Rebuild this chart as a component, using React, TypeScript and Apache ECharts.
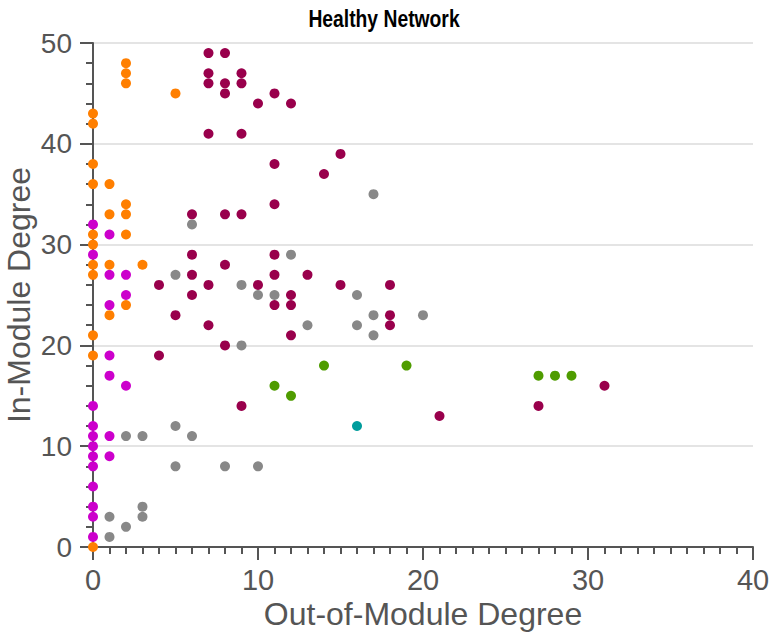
import React, { useEffect, useRef } from "react";
import * as echarts from "echarts";

// [out-of-module degree, in-module degree] per module
const orangeNodes: number[][] = [
  [0, 43], [0, 42], [0, 38], [0, 36], [0, 31], [0, 30], [0, 28], [0, 27], [0, 21], [0, 19], [0, 0],
  [1, 36], [1, 33], [1, 28], [1, 23],
  [2, 48], [2, 47], [2, 46], [2, 34], [2, 33], [2, 31], [2, 24],
  [3, 28], [5, 45],
];

const magentaNodes: number[][] = [
  [0, 32], [0, 29], [0, 14], [0, 12], [0, 11], [0, 10], [0, 9], [0, 8], [0, 6], [0, 4], [0, 3], [0, 1],
  [1, 31], [1, 27], [1, 24], [1, 19], [1, 17], [1, 11], [1, 9],
  [2, 27], [2, 25], [2, 16],
];

const grayNodes: number[][] = [
  [1, 3], [1, 1], [2, 11], [2, 2], [3, 11], [3, 4], [3, 3],
  [5, 27], [5, 12], [5, 8], [6, 32], [6, 11], [8, 8],
  [9, 26], [9, 20], [10, 25], [10, 8], [11, 25], [12, 29], [13, 22],
  [16, 25], [16, 22], [17, 35], [17, 23], [17, 21], [20, 23],
];

const maroonNodes: number[][] = [
  [4, 26], [4, 19], [5, 23],
  [6, 33], [6, 29], [6, 27], [6, 25],
  [7, 49], [7, 47], [7, 46], [7, 41], [7, 26], [7, 22],
  [8, 49], [8, 46], [8, 45], [8, 33], [8, 28], [8, 20],
  [9, 47], [9, 46], [9, 41], [9, 33], [9, 14],
  [10, 44], [10, 26],
  [11, 45], [11, 38], [11, 34], [11, 29], [11, 27], [11, 24],
  [12, 44], [12, 25], [12, 24], [12, 21],
  [13, 27], [14, 37], [15, 39], [15, 26],
  [18, 26], [18, 23], [18, 22], [21, 13], [27, 14], [31, 16],
];

const greenNodes: number[][] = [
  [11, 16], [12, 15], [14, 18], [19, 18], [27, 17], [28, 17], [29, 17],
];

const tealNodes: number[][] = [[16, 12]];

const xTicks = [0, 10, 20, 30, 40];
const yTicks = [0, 10, 20, 30, 40, 50];

const modules = [
  { name: "Module A", color: "#888888", data: grayNodes },
  { name: "Module B", color: "#99004c", data: maroonNodes },
  { name: "Module C", color: "#4f9c00", data: greenNodes },
  { name: "Module D", color: "#009c9c", data: tealNodes },
  { name: "Module E", color: "#cc00cc", data: magentaNodes },
  { name: "Module F", color: "#ff7f00", data: orangeNodes },
];

const FONT = "Liberation Sans, Arial, Helvetica, sans-serif";
const AXIS_COLOR = "#555555";

export default function App() {
  const ref = useRef<HTMLDivElement>(null);

  useEffect(() => {
    document.body.style.margin = "0";
    if (!ref.current) return;
    const chart = echarts.init(ref.current, null, { renderer: "svg" });

    const axisCommon = {
      axisLine: { show: true, lineStyle: { color: AXIS_COLOR, width: 2 } },
      axisTick: { show: true, length: 13, lineStyle: { color: AXIS_COLOR, width: 2 } },
      minorTick: { show: true, length: 7, lineStyle: { color: AXIS_COLOR, width: 2 } },
      nameLocation: "middle" as const,
      nameMoveOverlap: false,
      nameTextStyle: { fontFamily: FONT, fontSize: 32, color: AXIS_COLOR },
    };

    chart.setOption({
      animation: false,
      backgroundColor: "#ffffff",
      // condensed bold heading
      graphic: [
        {
          type: "text",
          x: 384,
          y: 19,
          scaleX: 0.84,
          style: {
            text: "Healthy Network",
            fontFamily: FONT,
            fontSize: 23,
            fontWeight: "bold",
            fill: "#000000",
            align: "center",
            verticalAlign: "middle",
          },
        },
      ],
      grid: {
        left: 93,
        right: 18,
        top: 43,
        bottom: 86,
        containLabel: false,
        outerBoundsMode: "none",
      },
      xAxis: {
        type: "value",
        min: xTicks[0],
        max: xTicks[xTicks.length - 1],
        interval: xTicks[1] - xTicks[0],
        name: "Out-of-Module Degree",
        nameGap: 51,
        ...axisCommon,
        minorTick: { ...axisCommon.minorTick, splitNumber: 10 },
        splitLine: { show: false },
        axisLabel: { fontFamily: FONT, fontSize: 29, color: AXIS_COLOR, margin: 18 },
      },
      yAxis: {
        type: "value",
        min: yTicks[0],
        max: yTicks[yTicks.length - 1],
        interval: yTicks[1] - yTicks[0],
        name: "In-Module Degree",
        nameGap: 58,
        ...axisCommon,
        minorTick: { ...axisCommon.minorTick, splitNumber: 5 },
        splitLine: { show: true, lineStyle: { color: "#e4e4e4", width: 2 } },
        axisLabel: { fontFamily: FONT, fontSize: 28, color: AXIS_COLOR, margin: 21 },
      },
      series: modules.map((m) => ({
        name: m.name,
        type: "scatter",
        symbol: "circle",
        symbolSize: 10,
        itemStyle: { color: m.color, opacity: 1 },
        data: m.data,
      })),
    });

    return () => chart.dispose();
  }, []);

  return <div ref={ref} style={{ width: 771, height: 633 }} />;
}
